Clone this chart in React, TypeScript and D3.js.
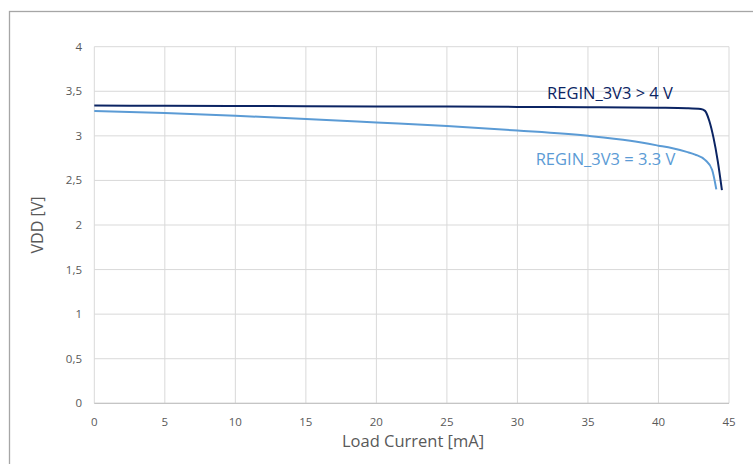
import React from "react";
import * as d3 from "d3";

const xTicks = [0, 5, 10, 15, 20, 25, 30, 35, 40, 45];
const yTicks = [0, 0.5, 1, 1.5, 2, 2.5, 3, 3.5, 4];

const currentHigh = [0, 5, 10, 15, 20, 25, 30, 35, 40, 42, 43, 43.3, 43.6, 43.9, 44.2, 44.5];
const vddHigh = [3.34, 3.338, 3.336, 3.333, 3.33, 3.328, 3.325, 3.322, 3.316, 3.31, 3.3, 3.28, 3.17, 2.98, 2.72, 2.39];

const currentLow = [0, 5, 10, 15, 20, 25, 30, 35, 38, 40, 41, 42, 42.6, 43.3, 43.8, 44.1];
const vddLow = [3.28, 3.255, 3.225, 3.19, 3.15, 3.11, 3.06, 3.0, 2.945, 2.89, 2.86, 2.82, 2.79, 2.73, 2.62, 2.4];

const labelHigh = "REGIN_3V3 > 4 V";
const labelLow = "REGIN_3V3 = 3.3 V";

const W = 753;
const H = 464;
const FONT = "'Open Sans', Lato, sans-serif";
const DARK = "#0b2463";
const LIGHT = "#5b9bd5";

export default function App() {
  const x = d3.scaleLinear().domain([0, 45]).range([94.3, 729]);
  const y = d3.scaleLinear().domain([0, 4]).range([403.3, 46.7]);

  const line = d3
    .line<[number, number]>()
    .x((d) => x(d[0]))
    .y((d) => y(d[1]))
    .curve(d3.curveMonotoneX);

  const highPts = currentHigh.map((c, i) => [c, vddHigh[i]] as [number, number]);
  const lowPts = currentLow.map((c, i) => [c, vddLow[i]] as [number, number]);

  return (
    <svg
      width={W}
      height={H}
      style={{ position: "absolute", left: 0, top: 0, background: "#fff" }}
      fontFamily={FONT}
    >
      <rect x={9.5} y={11.5} width={W + 10} height={H + 10} fill="#fff" stroke="#a6a6a6" strokeWidth={1.3} />
      {xTicks.map((t) => (
        <line key={"gx" + t} x1={x(t)} x2={x(t)} y1={y(4)} y2={y(0)} stroke="#d9d9d9" strokeWidth={1} />
      ))}
      {yTicks.map((t) => (
        <line key={"gy" + t} x1={x(0)} x2={x(45)} y1={y(t)} y2={y(t)} stroke="#d9d9d9" strokeWidth={1} />
      ))}
      <line x1={x(0)} x2={x(45)} y1={y(0)} y2={y(0)} stroke="#bfbfbf" strokeWidth={1} />
      {yTicks.map((t) => (
        <text key={"ty" + t} x={82} y={y(t) + 4} textAnchor="end" fontSize={11.5} fill="#595959">
          {String(t).replace(".", ",")}
        </text>
      ))}
      {xTicks.map((t) => (
        <text key={"tx" + t} x={x(t)} y={426} textAnchor="middle" fontSize={11.5} fill="#595959">
          {t}
        </text>
      ))}
      <text x={413} y={447} textAnchor="middle" fontSize={16.5} fill="#595959">
        Load Current [mA]
      </text>
      <text
        transform={`translate(43,${y(2)}) rotate(-90)`}
        textAnchor="middle"
        fontSize={16}
        fill="#595959"
      >
        VDD [V]
      </text>
      <path d={line(lowPts) || ""} fill="none" stroke={LIGHT} strokeWidth={2} />
      <path d={line(highPts) || ""} fill="none" stroke={DARK} strokeWidth={2} />
      <text x={610} y={98.5} textAnchor="middle" fontSize={16.5} fill={DARK}>
        {labelHigh}
      </text>
      <text x={605.5} y={165} textAnchor="middle" fontSize={16.5} fill={LIGHT}>
        {labelLow}
      </text>
    </svg>
  );
}
